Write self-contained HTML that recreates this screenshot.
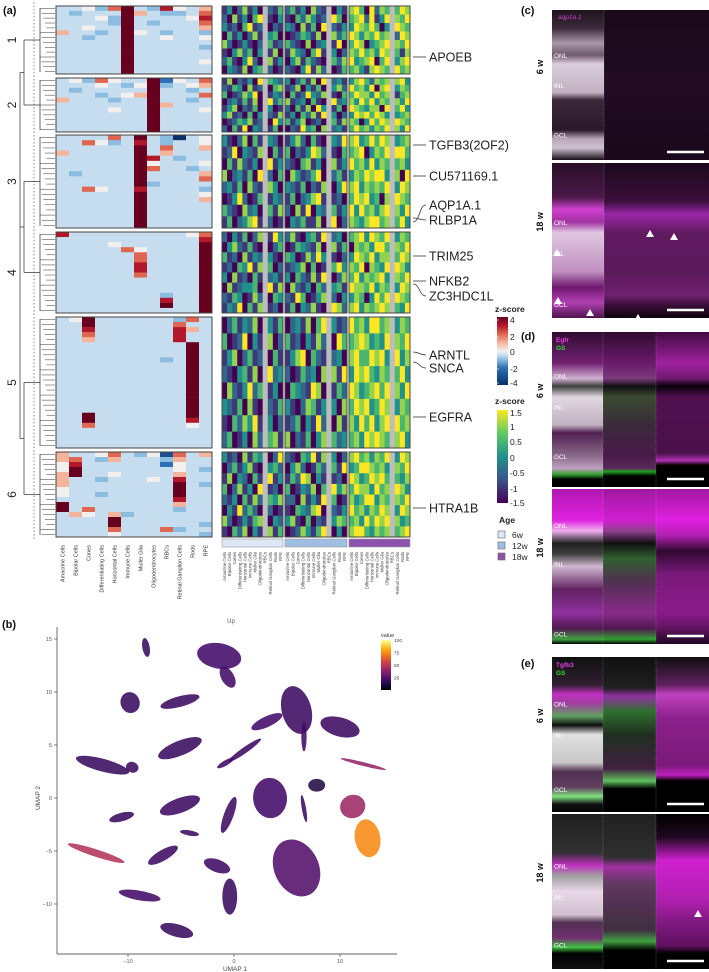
<!DOCTYPE html>
<html><head><meta charset="utf-8">
<style>
html,body{margin:0;padding:0;background:#fff;}
svg{display:block;font-family:"Liberation Sans",sans-serif;}
</style></head>
<body>
<svg id="fig" width="709" height="972" viewBox="0 0 709 972" xmlns="http://www.w3.org/2000/svg">
<defs id="defs"></defs>
</svg>
<script>
// ---------- DATA ----------
const cellTypes = ["Amacrine Cells","Bipolar Cells","Cones","Differentiating Cells","Horizontal Cells","Immune Cells","Muller Glia","Oligodendrocytes","RBCs","Retinal Ganglion Cells","Rods","RPE"];
const clusterLabels = ["1","2","3","4","5","6"];
const clusterY = [[6,74],[78,132],[135,228],[232,313],[317,448],[452,537]];
// z-score level codes: a=-4 b=-3 c=-2 d=-1 e=-0.5 f=0 g=1 h=2 i=3 j=4
const heat1 = ["eefdhjedifeg","edeeejgeddeh","eeefdjeeeefi","eeeedjedeeeh","eefeejeeeeeg","geedejfedeed","eedeejeefeef","eeeeejeeeeee","eeeeejeeeeed","eeeeejeeeeee","eeeeejeeeeee","eeeeejeeeeef","eeeeejeeeeee","eeeeejeeeeee"];
const heat2 = ["efdhfeejcfeh","eeefedfjdefg","edeeeeejeede","eeedefgjeeeh","geeedeejeede","eeeeeeejgeee","eeeefeejeeef","eeeeeeejeeee","eeeeeeejeeee","eeeeeeejeeee","eeeeeeejeeee"];
const heat3 = ["eeeehejedaef","eehfdeiedeef","eeeeeejeheeg","geeeeejegeee","eeeeeejiedee","eeeeeejfeeef","eeeeeejheede","edeeeejeeeeg","eeeeeejeeeeh","eeeeeejdeeee","eehfeeieeeed","eeeeeejeeeef","eeeeeejeeeeg","eeeeeejeeeee","eeeeeejeeeee","eeeeeejeeeee","eeeeeejeeeee","eeeeeejeeeee"];
const heat4 = ["ieeeeeeeeefh","eeeeeeeeeeei","eeeefeeeeeej","eeeeehfeeeej","eeeeeeheeeej","eeeeeeheeeej","eeeeeeieeeej","eeeeeeieeeej","eeeeeeheeeej","eeeeeeeeeeej","eeeeeeeeeeej","eeeeeeeeeeej","eeeeeeeedeej","eeeeeeeeieej","eeeeeeeejeej","eeeeeeeeeeej"];
const heat5 = ["efjeeeeeedhe","eejeeeeeehee","eeieeeeeeige","eeheeeeeeiee","eegeeeeeeiee","eeeeeeeeeeje","eeeeeeeeeeje","eeeeeeeeeeje","eeeeeeeedeje","eeeeeeeeeeje","eeeeeeeeeeje","eeeeeeeeeeje","eeeeeeeeeeje","eeeeeeeeeeje","eeeeeeeeeeje","eeeeeeeeeeje","eeeeeeeeeeje","eeeeeeeeeeje","eeeeeeeeeeje","eejeeeeeeeje","eejeeeeeeeie","eeheeeeeeefe","eeeeeeeeeeee","eeeeeeeeeeee","eeeeeeeeeeee","eeeeeeeeeeee"];
const heat6 = ["geefhedfbheg","ghedgeeedgee","fieeeeeecfee","fjeeeeeeefed","gjeefeeeegee","geedeeefeiee","geeeeeeeejed","feeeeeeeejee","feedeeeeejee","eeeeeeeeeiee","jeeeeeeeegee","jeheeeeeedee","egfegdeeeeee","eeeejeeeeeee","eeeejeeeeeed","eeeeheeehdee","eeeefeeeeeed"];
// age-resolved z-score codes 0..6 => -1.5..1.5, x = NA
const age6w = ["13025130x214","20513046x103","31204612x021","04130251x340","52013102x412","10352403x150","24103620x513","03215034x201",
"15021306x432","21430512x045","40125360x132","02314150x624","13502140x301","35120403x215","01243512x063","20416032x140",
"31025041x320","12603215x041","04152130x613","50231406x204","23140521x530","01362014x132","42105230x415","14023561x201",
"20314025x163","03521410x024","41205132x310","12043615x402","30512041x231","05123340x615","21430152x043","13260415x120",
"02413250x314","40126031x502","13502412x041","21034150x623","05213624x130","32140510x214","10425361x302","24013052x451",
"31205143x026","02413510x342","15032041x613","40251306x120","21304152x435","03162420x201","52013145x032","10425031x514"];
const age12w = ["24130521x031","10425312x640","32051406x213","01243150x524","42105023x160","15320461x302","03514210x425","21036152x014",
"30241506x231","12503140x352","04126325x104","51230410x623","20415063x140","13042516x302","41350120x415","02163405x231",
"13520410x326","40213652x104","21045130x513","05312460x241","32140215x036","14023561x120","20516032x413","03241150x602",
"25103416x230","01432150x514","43015263x102","12350401x463","30421516x025","05213042x341","21640135x203","14032510x652",
"02315046x312","41203152x064","13560421x230","20142305x516","04321650x142","31025413x305","12403162x051","50214035x423",
"21043615x302","03520142x416","14265031x120","40132504x635","22051316x401","10432560x213","35104021x354","01253146x030"];
const age18w = ["56406254x465","45626136x546","36546403x654","65354645x265","46503456x546","54645365x415","63456046x356","45315654x645",
"35642545x563","64536056x354","46553645x145","53646354x536","65435506x463","36564653x345","54036465x654","46453546x536",
"56346465x345","45603546x664","64536354x453","35465663x506","56354546x365","46563405x654","63645356x536","54356645x463",
"45636546x354","05453664x546","36546355x465","54605436x653","46354563x546","65546354x365","35403646x654","56354565x436",
"64536645x354","45653436x546","56446563x635","36564354x463","65345646x536","46563465x354","53646356x645","45365654x563",
"56453546x365","34665453x546","65346564x435","46553645x653","53466354x546","64535465x365","45364656x534","56643545x456"];
const ageLabels = ["6w","12w","18w"];
const geneLabels = ["APOEB","TGFB3(2OF2)","CU571169.1","AQP1A.1","RLBP1A","TRIM25","NFKB2","ZC3HDC1L","ARNTL","SNCA","EGFRA","HTRA1B"];
const geneRowY = [57,145,176,222,218,256,281,284,352,362,417,508];
const geneLabelY = [57,145,176,205,220,256,281,296,355,368,417,508];
// UMAP clusters (UMAP units): centre x, centre y, radii, rotation(deg), mean value
const umapX = [-8.3,-1.4,-0.6,-9.8,-5.1,5.9,6.6,3.1,10.0,-5.1,1.0,-12.4,-0.8,-9.6,3.4,7.8,11.2,12.6,-5.1,-0.5,-10.6,-13.0,-6.7,5.9,-0.4,-1.6,-8.9,-5.4,-4.2,12.2,6.6];
const umapY = [14.2,13.4,11.4,9.0,9.1,8.3,5.8,7.2,6.7,4.7,4.5,3.1,3.3,2.9,0.0,1.2,-0.8,-3.8,-0.7,-1.6,-1.8,-5.2,-5.4,-6.6,-9.3,-6.4,-9.2,-12.5,-3.3,3.2,-1.0];
const umapRx = [0.35,2.1,0.6,0.9,1.9,1.4,0.25,1.6,1.9,2.2,1.9,2.6,0.9,0.6,1.6,0.8,1.2,1.2,2.0,0.45,1.2,2.8,1.6,2.1,0.7,1.3,2.0,1.6,0.9,2.2,0.2];
const umapRy = [0.9,1.2,1.1,1.0,0.5,2.3,1.4,0.5,0.9,0.7,0.28,0.6,0.25,0.5,1.9,0.6,1.1,1.8,0.7,1.8,0.4,0.35,0.5,2.8,1.7,0.6,0.45,0.6,0.25,0.18,1.3];
const umapRot = [10,-10,30,20,15,15,0,25,-15,22,35,-15,30,-20,5,0,20,10,20,-20,15,-18,30,25,0,-20,-10,-15,-10,-14,10];
const umapVal = [18,20,20,18,18,19,20,20,19,18,19,18,20,19,20,12,42,74,19,19,18,48,19,24,18,19,20,18,19,40,18];
const umapXTicks = [-10,0,10];
const umapYTicks = [15,10,5,0,-5,-10];
const valueTicks = [25,50,75,100];

// ---------- HELPERS ----------
const NS="http://www.w3.org/2000/svg";
const svg=document.getElementById('fig');
const defs=document.getElementById('defs');
function mk(tag,attrs,parent){const e=document.createElementNS(NS,tag);for(const k in attrs)e.setAttribute(k,attrs[k]);(parent||svg).appendChild(e);return e;}
function txt(s,x,y,size,attrs,parent){const t=mk('text',Object.assign({x:x,y:y,'font-size':size,fill:'#222'},attrs||{}),parent);t.textContent=s;return t;}
function lerpHex(a,b,t){const pa=[1,3,5].map(i=>parseInt(a.substr(i,2),16)),pb=[1,3,5].map(i=>parseInt(b.substr(i,2),16));return 'rgb('+pa.map((v,i)=>Math.round(v+(pb[i]-v)*t)).join(',')+')';}
function ramp(stops,t){t=Math.max(0,Math.min(1,t));for(let i=1;i<stops.length;i++){if(t<=stops[i][0]){const s=stops[i-1],e=stops[i];return lerpHex(s[1],e[1],(t-s[0])/(e[0]-s[0]));}}return stops[stops.length-1][1];}
const rdbu=[[0,'#08306b'],[0.25,'#2c6fb4'],[0.375,'#8cbce0'],[0.4375,'#c6ddef'],[0.5,'#f2f0ef'],[0.625,'#f4b49c'],[0.75,'#df6650'],[0.875,'#b2182b'],[1,'#67001f']];
const vir=[[0,'#440154'],[0.25,'#3b528b'],[0.5,'#21918c'],[0.75,'#5ec962'],[1,'#fde725']];
const inf=[[0,'#000004'],[0.1,'#160b39'],[0.2,'#420a68'],[0.3,'#6a176e'],[0.4,'#932667'],[0.5,'#bc3754'],[0.6,'#dd513a'],[0.7,'#f37819'],[0.8,'#fca50a'],[0.9,'#f6d746'],[1,'#fcffa4']];
const codeZ={a:-4,b:-3,c:-2,d:-1,e:-0.5,f:0,g:1,h:2,i:3,j:4};
function zColor(z){return ramp(rdbu,(z+4)/8);}
function vColor(d){return ramp(vir,d/6);}

// ---------- PANEL LABELS ----------
[['(a)',3,14],['(b)',2,628],['(c)',521,14],['(d)',521,340],['(e)',521,667]].forEach(p=>{
 const t=txt(p[0],p[1],p[2],11,{'font-weight':'bold',fill:'#111'});
 
 
});

// ---------- PANEL A: MAIN HEATMAP ----------
const heats=[heat1,heat2,heat3,heat4,heat5,heat6];
const hmX0=56,hmW=156,colW=hmW/cellTypes.length;
const gA=mk('g',{});


mk('line',{x1:34,y1:2,x2:34,y2:540,stroke:'#666','stroke-dasharray':'1.5,2','stroke-width':0.8},gA);
heats.forEach((rows,ci)=>{
 const [y0,y1]=clusterY[ci];const rh=(y1-y0)/rows.length;
 const g=mk('g',{},gA);
 
 
 rows.forEach((r,ri)=>{for(let c=0;c<cellTypes.length;c++){
  mk('rect',{x:hmX0+c*colW,y:y0+ri*rh,width:colW+0.3,height:rh+0.3,fill:zColor(codeZ[r[c]])},g);
 }
  const lx=40+ (ri%5)*1.6;
  mk('line',{x1:lx,y1:y0+ri*rh+rh/2,x2:hmX0-1,y2:y0+ri*rh+rh/2,stroke:'#555','stroke-width':0.6},gA);
 });
 mk('rect',{x:hmX0,y:y0,width:hmW,height:y1-y0,fill:'none',stroke:'#444','stroke-width':1},g);
 mk('line',{x1:40,y1:y0+2,x2:40,y2:y1-2,stroke:'#444','stroke-width':0.8},gA);
 mk('line',{x1:24,y1:(y0+y1)/2,x2:40,y2:(y0+y1)/2,stroke:'#444','stroke-width':0.8},gA);
 const cl=txt(clusterLabels[ci],0,0,12,{transform:`translate(16,${(y0+y1)/2}) rotate(-90)`,'text-anchor':'middle',fill:'#222'});
 
 
});
const mids=clusterY.map(c=>(c[0]+c[1])/2);
mk('line',{x1:24,y1:mids[0],x2:24,y2:mids[1],stroke:'#444','stroke-width':0.8},gA);
mk('line',{x1:24,y1:mids[2],x2:24,y2:mids[3],stroke:'#444','stroke-width':0.8},gA);
mk('line',{x1:24,y1:mids[4],x2:24,y2:mids[5],stroke:'#444','stroke-width':0.8},gA);
mk('line',{x1:20,y1:(mids[0]+mids[1])/2,x2:24,y2:(mids[0]+mids[1])/2,stroke:'#444','stroke-width':0.8},gA);
mk('line',{x1:20,y1:(mids[2]+mids[3])/2,x2:24,y2:(mids[2]+mids[3])/2,stroke:'#444','stroke-width':0.8},gA);
mk('line',{x1:20,y1:(mids[4]+mids[5])/2,x2:24,y2:(mids[4]+mids[5])/2,stroke:'#444','stroke-width':0.8},gA);
mk('line',{x1:20,y1:(mids[0]+mids[1])/2,x2:20,y2:(mids[4]+mids[5])/2,stroke:'#444','stroke-width':0.8},gA);
cellTypes.forEach((n,c)=>{
 const t=txt(n,0,0,5.5,{transform:`translate(${hmX0+c*colW+colW/2+2},${545}) rotate(-90)`,'text-anchor':'end',fill:'#333'});
 
 
});

// ---------- PANEL A: AGE HEATMAPS ----------
const ages=[age6w,age12w,age18w];
const ageX=[[222,283],[285,347],[349,410]];
const ageCol=['#dce9f5','#9fbfe2','#8d52ad'];
ages.forEach((rows,ai)=>{
 const g=mk('g',{});
 
 
 const [x0,x1]=ageX[ai];const cw=(x1-x0)/cellTypes.length;
 clusterY.forEach((cy,ci)=>{
  const sub=rows.slice(ci*8,ci*8+8);const rh=(cy[1]-cy[0])/sub.length;
  sub.forEach((r,ri)=>{for(let c=0;c<cellTypes.length;c++){
   const ch=r[c];
   mk('rect',{x:x0+c*cw,y:cy[0]+ri*rh,width:cw+0.3,height:rh+0.3,fill:ch==='x'?'#bdbdbd':vColor(+ch)},g);
  }});
  mk('rect',{x:x0,y:cy[0],width:x1-x0,height:cy[1]-cy[0],fill:'none',stroke:'#444','stroke-width':1},g);
 });
 const bar=mk('rect',{x:x0,y:539,width:x1-x0,height:8,fill:ageCol[ai],stroke:'#999','stroke-width':0.6});
 
 
 cellTypes.forEach((n,c)=>{
  const t=txt(n,0,0,4.3,{transform:`translate(${x0+c*cw+cw/2+1.5},552) rotate(-90)`,'text-anchor':'end',fill:'#444'});
  
  
 });
});

geneLabels.forEach((gname,i)=>{
 const ly=geneLabelY[i],ry=geneRowY[i];
 const p=mk('path',{d:`M413,${ry} C420,${ry} 419,${ly} 426,${ly}`,fill:'none',stroke:'#333','stroke-width':0.8});
 
 
 const t=txt(gname,429,ly+4.5,12.5,{fill:'#222'});
 
 
});

// ---------- LEGENDS ----------
function gradDef(id,stops){const lg=mk('linearGradient',{id:id,x1:0,y1:1,x2:0,y2:0},defs);stops.forEach(s=>mk('stop',{offset:s[0],'stop-color':s[1]},lg));}
gradDef('gz',rdbu);gradDef('gv',vir);gradDef('gi',inf);
const lg1=mk('g',{});
txt('z-score',495,312,8.5,{'font-weight':'bold'},lg1);
mk('rect',{x:497,y:317,width:11,height:68,fill:'url(#gz)'},lg1);
[['4',320],['2',337],['0',352],['-2',369],['-4',383]].forEach(l=>{txt(l[0],510,l[1]+3,8.5,{},lg1);mk('line',{x1:497,y1:l[1],x2:499,y2:l[1],stroke:'#fff','stroke-width':0.6},lg1);});
const lg2=mk('g',{});
txt('z-score',495,404,8.5,{'font-weight':'bold'},lg2);
mk('rect',{x:497,y:410,width:11,height:93,fill:'url(#gv)'},lg2);
[['1.5',413],['1',427],['0.5',442],['0',458],['-0.5',473],['-1',489],['-1.5',503]].forEach(l=>txt(l[0],510,l[1]+3,8.5,{},lg2));
const lg3=mk('g',{});
txt('Age',499,523,8.5,{'font-weight':'bold'},lg3);
ageLabels.forEach((a,i)=>{mk('rect',{x:498,y:531+i*11,width:7,height:7,fill:ageCol[i],stroke:'#666','stroke-width':0.6},lg3);txt(a,512,538+i*11,8.5,{},lg3);});

// ---------- PANEL B: UMAP ----------
const ux=u=>234+u*10.6, uy=u=>798-u*10.6;
const gB=mk('g',{});
const ttl=txt('Up',231,623,6,{'text-anchor':'middle',fill:'#555'},gB);
mk('line',{x1:57,y1:627,x2:57,y2:954,stroke:'#333','stroke-width':0.7},gB);
mk('line',{x1:57,y1:954,x2:397,y2:954,stroke:'#333','stroke-width':0.7},gB);
umapXTicks.forEach(v=>{mk('line',{x1:ux(v),y1:954,x2:ux(v),y2:957,stroke:'#333','stroke-width':0.6},gB);const t=txt(String(v).replace('-','\u2212'),ux(v),963,5.5,{'text-anchor':'middle',fill:'#555'},gB);});
umapYTicks.forEach(v=>{mk('line',{x1:54,y1:uy(v),x2:57,y2:uy(v),stroke:'#333','stroke-width':0.6},gB);const t=txt(String(v).replace('-','\u2212'),52,uy(v)+2,5.5,{'text-anchor':'end',fill:'#555'},gB);});
const xt=txt('UMAP 1',235,971,6.5,{'text-anchor':'middle',fill:'#444'},gB);
const yt=txt('UMAP 2',0,0,6.5,{transform:'translate(40,798) rotate(-90)','text-anchor':'middle',fill:'#444'},gB);
umapX.forEach((cx,i)=>{
 const e=mk('ellipse',{cx:ux(cx),cy:uy(umapY[i]),rx:umapRx[i]*10.6,ry:umapRy[i]*10.6,fill:ramp(inf,umapVal[i]/100),opacity:0.88,transform:`rotate(${-umapRot[i]} ${ux(cx)} ${uy(umapY[i])})`},gB);
 
 
});
const lgB=mk('g',{},gB);
txt('value',381,637,5.5,{fill:'#333'},lgB);
mk('rect',{x:381,y:640,width:10,height:50,fill:'url(#gi)'},lgB);
valueTicks.forEach(v=>{const y=690-(v/100)*50;txt(String(v),394,y+2,4.8,{fill:'#444'},lgB);});

// ---------- PANELS C/D/E: MICROSCOPY ----------
let gid=0;
function band(x,y,w,h,stops,parent){const id='m'+(gid++);const lg=mk('linearGradient',{id:id,x1:0,y1:0,x2:0,y2:1},defs);stops.forEach(s=>mk('stop',{offset:s[0],'stop-color':s[1]},lg));mk('rect',{x:x,y:y,width:w,height:h,fill:`url(#${id})`},parent);}
function micro(name,y,h,divs,segs,labels,age,extra){
 const g=mk('g',{});
 const xs=[552].concat(divs).concat([709]);
 segs.forEach((s,i)=>band(xs[i],y,xs[i+1]-xs[i],h,s,g));
 divs.forEach(d=>mk('line',{x1:d,y1:y,x2:d,y2:y+h,stroke:'#fff','stroke-opacity':0.35,'stroke-width':0.6,'stroke-dasharray':'1,1'},g));
 labels.forEach(l=>txt(l[0],554,y+l[1]*h,6.5,{fill:'#fff'},g));
 mk('line',{x1:667,y1:y+h-8,x2:704,y2:y+h-8,stroke:'#fff','stroke-width':2.5},g);
 const at=txt(age,0,0,9,{'font-weight':'bold',fill:'#111',transform:`translate(543,${y+h*0.38}) rotate(-90)`,'text-anchor':'middle'});
 
 if(extra)extra(g);
 return g;
}
function arrow(x,y,g,dir){const p=dir==='up'?`M${x},${y} l-4,7 l8,0z`:`M${x},${y} l7,-4 l0,8z`;mk('path',{d:p,fill:'#fff'},g);}
micro('panel-c-6w',10,150,[604],[
 [[0,'#1e141c'],[0.12,'#3c2a3a'],[0.22,'#a898a8'],[0.3,'#6e5a6c'],[0.36,'#dccedc'],[0.55,'#c0b0c0'],[0.6,'#3a2838'],[0.8,'#2a1a28'],[0.86,'#b8a8b8'],[0.92,'#d0c0d0'],[1,'#141014']],
 [[0,'#1a0a1a'],[0.5,'#220c24'],[1,'#1a081a']]
],[['ONL',0.32],['INL',0.52],['GCL',0.85]],'6 w',g=>{txt('aqp1a.1',558,19,6.5,{fill:'#d040d0','font-style':'italic'},g);});
micro('panel-c-18w',163,155,[604],[
 [[0,'#2a1028'],[0.22,'#4a1848'],[0.3,'#d040d0'],[0.38,'#a030a0'],[0.45,'#e0c8e0'],[0.7,'#c090c0'],[0.8,'#701870'],[0.9,'#b040b0'],[1,'#501450']],
 [[0,'#1c081c'],[0.25,'#3c103c'],[0.33,'#9a28a8'],[0.45,'#601a60'],[0.7,'#5a1a5a'],[0.85,'#702070'],[0.93,'#300c30'],[1,'#100410']]
],[['ONL',0.4],['INL',0.6],['GCL',0.93]],'18 w',g=>{arrow(650,230,g,'up');arrow(674,233,g,'up');arrow(557,249,g,'up');arrow(590,309,g,'up');arrow(638,314,g,'up');arrow(558,297,g,'up');});
micro('panel-d-6w',332,155,[603,656],[
 [[0,'#300c30'],[0.2,'#702070'],[0.3,'#d0b0d0'],[0.35,'#404040'],[0.42,'#e0d8e0'],[0.6,'#c0b0c0'],[0.65,'#502050'],[0.8,'#8a6a8a'],[0.88,'#c0a0c0'],[0.92,'#30a030'],[0.95,'#000'],[1,'#000']],
 [[0,'#300c30'],[0.2,'#6a1a6a'],[0.3,'#7a3a7a'],[0.35,'#101010'],[0.42,'#3a4a30'],[0.6,'#3a2a3a'],[0.8,'#4a1a4a'],[0.88,'#5a2a5a'],[0.9,'#20a020'],[0.93,'#000'],[1,'#000']],
 [[0,'#400c40'],[0.2,'#a020a0'],[0.3,'#701a70'],[0.35,'#080008'],[0.42,'#501050'],[0.78,'#4a104a'],[0.83,'#b030b0'],[0.86,'#000'],[1,'#000']]
],[['ONL',0.3],['INL',0.5],['GCL',0.82]],'6 w',g=>{txt('Egfr',556,342,6.5,{fill:'#e040e0','font-weight':'bold'},g);txt('GS',556,350,6.5,{fill:'#30e030','font-weight':'bold'},g);});
micro('panel-d-18w',489,155,[603,656],[
 [[0,'#b018b0'],[0.2,'#e020e0'],[0.27,'#f0b0f0'],[0.35,'#202020'],[0.42,'#404040'],[0.5,'#d0b8d0'],[0.65,'#602060'],[0.8,'#9030a0'],[0.9,'#501850'],[0.97,'#40a040'],[1,'#000']],
 [[0,'#a018a0'],[0.2,'#d020d0'],[0.27,'#904090'],[0.35,'#101010'],[0.45,'#306030'],[0.6,'#503050'],[0.8,'#8a2a8a'],[0.9,'#501850'],[0.97,'#30a030'],[1,'#000']],
 [[0,'#a018a0'],[0.2,'#e020e0'],[0.3,'#b020b0'],[0.4,'#300830'],[0.55,'#7a1a7a'],[0.8,'#8a1a8a'],[0.9,'#601460'],[1,'#200820']]
],[['ONL',0.25],['INL',0.5],['GCL',0.95]],'18 w');
micro('panel-e-6w',657,155,[603,656],[
 [[0,'#101010'],[0.18,'#302030'],[0.24,'#c030c0'],[0.3,'#a040a0'],[0.38,'#60a060'],[0.44,'#101010'],[0.5,'#e0e0e0'],[0.68,'#c8c8c8'],[0.74,'#503050'],[0.84,'#604060'],[0.9,'#80e080'],[0.95,'#101010'],[1,'#050505']],
 [[0,'#101010'],[0.2,'#202020'],[0.25,'#9030a0'],[0.35,'#307030'],[0.5,'#203020'],[0.72,'#402040'],[0.8,'#60c060'],[0.85,'#000'],[1,'#000']],
 [[0,'#101010'],[0.18,'#602060'],[0.24,'#c040c0'],[0.4,'#8a208a'],[0.7,'#7a1a7a'],[0.76,'#c020c0'],[0.8,'#000'],[1,'#000']]
],[['ONL',0.32],['INL',0.52],['GCL',0.87]],'6 w',g=>{txt('Tgfb3',556,667,6.5,{fill:'#e040e0','font-weight':'bold'},g);txt('GS',556,675,6.5,{fill:'#30e030','font-weight':'bold'},g);});
micro('panel-e-18w',814,155,[603,656],[
 [[0,'#202020'],[0.25,'#303030'],[0.33,'#c030c0'],[0.4,'#a0a0a0'],[0.5,'#e8d8e8'],[0.65,'#d0c0d0'],[0.7,'#503050'],[0.8,'#703070'],[0.86,'#40c040'],[0.9,'#000'],[1,'#101010']],
 [[0,'#202020'],[0.28,'#303030'],[0.34,'#a030a0'],[0.45,'#603a60'],[0.6,'#503050'],[0.75,'#403040'],[0.82,'#40a040'],[0.88,'#000'],[1,'#000']],
 [[0,'#000'],[0.15,'#200820'],[0.3,'#d020d0'],[0.55,'#b020b0'],[0.7,'#801880'],[0.85,'#601060'],[0.9,'#000'],[1,'#000']]
],[['ONL',0.35],['INL',0.55],['GCL',0.86]],'18 w',g=>{arrow(698,910,g,'up');});
</script>
</body></html>
